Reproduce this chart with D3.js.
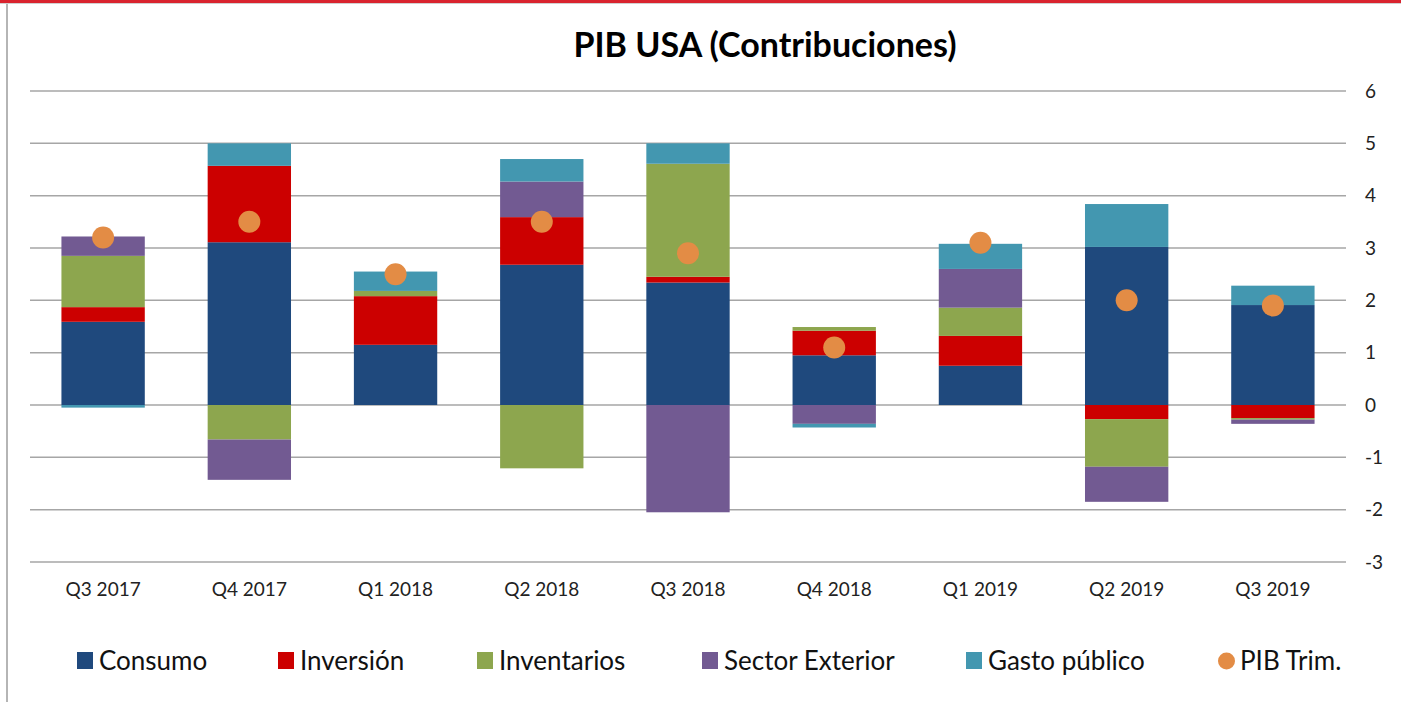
<!DOCTYPE html>
<html>
<head>
<meta charset="utf-8">
<script src="https://cdn.jsdelivr.net/npm/d3@7"></script>
<style>
  html, body { margin: 0; padding: 0; background: #fff; }
  svg { display: block; font-family: Lato, "Open Sans", sans-serif; }
</style>
</head>
<body>
<div id="chart"></div>
<script>
// Data (contributions to US GDP growth, pp)
const quarters = ["Q3 2017", "Q4 2017", "Q1 2018", "Q2 2018", "Q3 2018", "Q4 2018", "Q1 2019", "Q2 2019", "Q3 2019"];
const seriesNames = ["Consumo", "Inversión", "Inventarios", "Sector Exterior", "Gasto público"];
const consumo     = [1.59, 3.11, 1.15, 2.68, 2.34, 0.95, 0.75, 3.02, 1.91];
const inversion   = [0.28, 1.46, 0.93, 0.91, 0.11, 0.47, 0.57, -0.27, -0.25];
const inventarios = [0.98, -0.66, 0.10, -1.21, 2.16, 0.07, 0.54, -0.91, -0.03];
const sectorExt   = [0.37, -0.77, 0.00, 0.68, -2.05, -0.36, 0.74, -0.67, -0.08];
const gasto       = [-0.05, 0.43, 0.37, 0.43, 0.39, -0.07, 0.48, 0.82, 0.37];
const pibTrim     = [3.2, 3.5, 2.5, 3.5, 2.9, 1.1, 3.1, 2.0, 1.9];
const yTicks = [-3, -2, -1, 0, 1, 2, 3, 4, 5, 6];

const colors = ["#1f497d", "#cc0000", "#8da64e", "#725a92", "#4397b0"];
const dotColor = "#e38c45";

const W = 1401, H = 702;
const margin = {top: 91, right: 55, bottom: 140, left: 30};
const innerW = W - margin.left - margin.right;

const svg = d3.select("#chart").append("svg")
  .attr("width", W)
  .attr("height", H);

// frame: red strip on top, grey rule on the left
svg.append("rect").attr("x", 0).attr("y", 0).attr("width", W).attr("height", 3).attr("fill", "#d9232e");
svg.append("rect").attr("x", 0).attr("y", 3).attr("width", W).attr("height", 1).attr("fill", "#d0d0d0");
svg.append("rect").attr("x", 6).attr("y", 4).attr("width", 2).attr("height", H - 4).attr("fill", "#b5b5b5");

// title
svg.append("text")
  .attr("x", 765)
  .attr("y", 57)
  .attr("text-anchor", "middle")
  .attr("font-size", 34)
  .attr("font-weight", "bold")
  .attr("fill", "#000")
  .text("PIB USA (Contribuciones)");

const g = svg.append("g").attr("transform", `translate(${margin.left},0)`);

const x = d3.scaleBand()
  .domain(quarters)
  .range([0, innerW])
  .paddingInner(0.43)
  .paddingOuter(0.215);

const y = d3.scaleLinear()
  .domain([-3, 6])
  .range([562, 91]);

// gridlines
g.append("g")
  .selectAll("line")
  .data(yTicks)
  .join("line")
    .attr("x1", 0)
    .attr("x2", innerW)
    .attr("y1", d => y(d))
    .attr("y2", d => y(d))
    .attr("stroke", "#a6a6a6")
    .attr("stroke-width", 1.5);

// y axis on the right
const yAxis = d3.axisRight(y).tickValues(yTicks).tickSize(0).tickPadding(19).tickFormat(d => String(d));
g.append("g")
  .attr("transform", `translate(${innerW},0)`)
  .call(yAxis)
  .call(s => s.select(".domain").remove())
  .selectAll("text")
    .attr("font-size", 19)
    .attr("font-family", "Lato, sans-serif")
    .attr("fill", "#222");

// x axis labels
const xAxis = d3.axisBottom(x).tickSize(0).tickPadding(21);
g.append("g")
  .attr("transform", `translate(0,${y(-3)})`)
  .call(xAxis)
  .call(s => s.select(".domain").remove())
  .selectAll("text")
    .attr("font-size", 19)
    .attr("font-family", "Lato, sans-serif")
    .attr("fill", "#222");

// stacked bars
const table = quarters.map((q, i) => ({
  quarter: q,
  "Consumo": consumo[i],
  "Inversión": inversion[i],
  "Inventarios": inventarios[i],
  "Sector Exterior": sectorExt[i],
  "Gasto público": gasto[i]
}));

const stack = d3.stack()
  .keys(seriesNames)
  .offset(d3.stackOffsetDiverging);

const layers = stack(table);

g.append("g")
  .selectAll("g")
  .data(layers)
  .join("g")
    .attr("fill", (d, i) => colors[i])
  .selectAll("rect")
  .data(d => d)
  .join("rect")
    .attr("x", d => x(d.data.quarter))
    .attr("width", x.bandwidth())
    .attr("y", d => y(Math.max(d[0], d[1])))
    .attr("height", d => Math.abs(y(d[0]) - y(d[1])));

// PIB dots
g.append("g")
  .selectAll("circle")
  .data(pibTrim)
  .join("circle")
    .attr("cx", (d, i) => x(quarters[i]) + x.bandwidth() / 2)
    .attr("cy", d => y(d))
    .attr("r", 11)
    .attr("fill", dotColor);

// legend
const legendItems = seriesNames.map((n, i) => ({name: n, color: colors[i], type: "rect"}))
  .concat([{name: "PIB Trim.", color: dotColor, type: "circle"}]);
const legendX = [77, 278, 477, 702, 966, 1218];

const legend = svg.append("g").selectAll("g")
  .data(legendItems)
  .join("g")
    .attr("transform", (d, i) => `translate(${legendX[i]},652)`);

legend.filter(d => d.type === "rect").append("rect")
  .attr("width", 16).attr("height", 17)
  .attr("fill", d => d.color);
legend.filter(d => d.type === "circle").append("circle")
  .attr("cx", 8.5).attr("cy", 9).attr("r", 8.5)
  .attr("fill", d => d.color);

legend.append("text")
  .attr("x", 22)
  .attr("y", 18)
  .attr("font-size", 26)
  .attr("fill", "#111")
  .text(d => d.name);
</script>
</body>
</html>
